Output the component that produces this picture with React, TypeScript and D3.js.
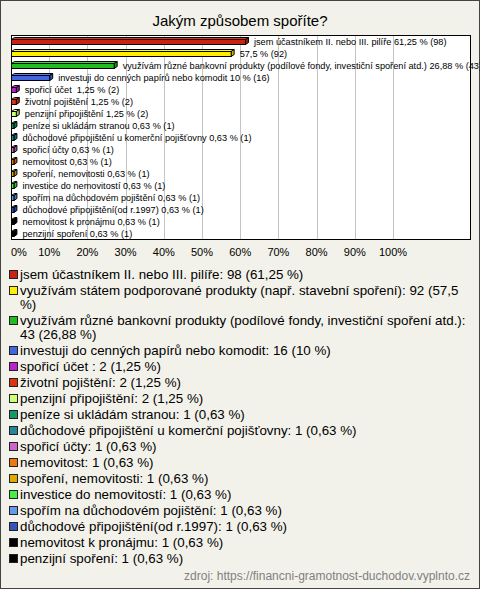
import React from "react";
import * as d3 from "d3";

const title = "Jakým způsobem spoříte?";
const source = "zdroj: https://financni-gramotnost-duchodov.vyplnto.cz";

const categories = [
  "jsem účastníkem II. nebo III. pilíře",
  "využívám státem podporované produkty (např. stavební spoření)",
  "využívám různé bankovní produkty (podílové fondy, investiční spoření atd.)",
  "investuji do cenných papírů nebo komodit",
  "spořicí účet ",
  "životní pojištění",
  "penzijní připojištění",
  "peníze si ukládám stranou",
  "důchodové připojištění u komerční pojišťovny",
  "spořicí účty",
  "nemovitost",
  "spoření, nemovitosti",
  "investice do nemovitostí",
  "spořím na důchodovém pojištění",
  "důchodové připojištění(od r.1997)",
  "nemovitost k pronájmu",
  "penzijní spoření",
];
// names shown next to the bars (the long 2nd one is omitted in the original)
const barNames = [
  "jsem účastníkem II. nebo III. pilíře",
  "",
  "využívám různé bankovní produkty (podílové fondy, investiční spoření atd.)",
  "investuji do cenných papírů nebo komodit",
  "spořicí účet ",
  "životní pojištění",
  "penzijní připojištění",
  "peníze si ukládám stranou",
  "důchodové připojištění u komerční pojišťovny",
  "spořicí účty",
  "nemovitost",
  "spoření, nemovitosti",
  "investice do nemovitostí",
  "spořím na důchodovém pojištění",
  "důchodové připojištění(od r.1997)",
  "nemovitost k pronájmu",
  "penzijní spoření",
];
const counts = [98, 92, 43, 16, 2, 2, 2, 1, 1, 1, 1, 1, 1, 1, 1, 1, 1];
const percents = [61.25, 57.5, 26.88, 10, 1.25, 1.25, 1.25, 0.63, 0.63, 0.63, 0.63, 0.63, 0.63, 0.63, 0.63, 0.63, 0.63];
const colors = [
  "#cc2211", "#ffee00", "#22bb22", "#4466dd", "#bb22cc", "#dd3311", "#ccff77",
  "#119966", "#228899", "#cc66cc", "#ee7711", "#ddaa00", "#44ee44", "#6699ee",
  "#3355bb", "#000000", "#000000",
];
const xTicks = [0, 10, 20, 30, 40, 50, 60, 70, 80, 90, 100];

const W = 480;
const H = 589;
const FONT = "'Liberation Sans', Arial, sans-serif";
const LEGEND_SIZE = 13.35;

const fmt = (v: number) => String(v).replace(".", ",");

let ctx: CanvasRenderingContext2D | null = null;
function measure(t: string, font: string) {
  if (!ctx) ctx = document.createElement("canvas").getContext("2d");
  if (!ctx) return t.length * 7;
  ctx.font = font;
  return ctx.measureText(t).width;
}
function wrap(t: string, maxW: number, font: string) {
  const words = t.split(" ");
  const lines: string[] = [];
  let cur = "";
  for (const w of words) {
    const test = cur === "" ? w : cur + " " + w;
    if (cur !== "" && measure(test, font) > maxW) {
      lines.push(cur);
      cur = w;
    } else cur = test;
  }
  if (cur !== "") lines.push(cur);
  return lines;
}

export default function App() {
  const plot = { left: 11, right: 471, top: 35, bottom: 239 };
  const x = d3.scaleLinear().domain([0, 100]).range([11, 393]);
  const y = d3
    .scaleBand<number>()
    .domain(categories.map((_, i) => i))
    .range([plot.top, plot.bottom]);
  const depth = 3;

  const legendFont = `${LEGEND_SIZE}px ${FONT}`;
  let cy = 274;
  const legendItems = categories.map((c, i) => {
    const txt = `${c}: ${counts[i]} (${fmt(percents[i])} %)`;
    const lines = wrap(txt, 452, legendFont);
    const item = { lines, cy, color: colors[i] };
    cy += lines.length * 14 + 2;
    return item;
  });

  return (
    <svg
      width={W}
      height={H}
      style={{ position: "absolute", left: 0, top: 0 }}
      fontFamily={FONT}
    >
      <rect x={0.5} y={0.5} width={W - 1} height={H - 1} fill="#f3f2ea" stroke="#444" />
      <text x={240} y={26} textAnchor="middle" fontSize={15} fill="#000">
        {title}
      </text>
      <rect
        x={plot.left + 0.5}
        y={plot.top + 0.5}
        width={plot.right - plot.left - 1}
        height={plot.bottom - plot.top}
        fill="#fff"
      />
      {xTicks.slice(1).map((t) => (
        <line
          key={t}
          x1={Math.round(x(t)) + 0.5}
          x2={Math.round(x(t)) + 0.5}
          y1={plot.top}
          y2={plot.bottom}
          stroke="#c4c4c4"
        />
      ))}
      <rect
        x={plot.left + 0.5}
        y={plot.top + 0.5}
        width={plot.right - plot.left - 1}
        height={plot.bottom - plot.top}
        fill="none"
        stroke="#000"
      />
      {categories.map((_, i) => {
        const c = (y(i) as number) + y.bandwidth() / 2 + 0.5;
        const x0 = x(0) + 0.5;
        const x1 = x(percents[i]) + 0.5;
        const top = c - 2;
        const bot = c + 3;
        const col = d3.color(colors[i])!;
        const topCol = colors[i] === "#000000" ? "#555" : col.brighter(0.6).formatHex();
        const sideCol = col.darker(0.7).formatHex();
        return (
          <g key={i}>
            <polygon
              points={`${x0},${top} ${x0 + depth},${top - 2} ${x1 + depth},${top - 2} ${x1},${top}`}
              fill={topCol}
              stroke="#000"
              strokeWidth={1}
            />
            <polygon
              points={`${x1},${top} ${x1 + depth},${top - 2} ${x1 + depth},${bot - 2} ${x1},${bot}`}
              fill={sideCol}
              stroke="#000"
              strokeWidth={1}
            />
            <rect x={x0} y={top} width={x1 - x0} height={bot - top} fill={colors[i]} stroke="#000" />
            <text
              x={x(percents[i]) + 9}
              y={c + 3}
              fontSize={9.2}
              fill="#000"
              style={{ whiteSpace: "pre" }}
            >
              {`${barNames[i] ? barNames[i] + " " : ""}${fmt(percents[i])} % (${counts[i]})`}
            </text>
          </g>
        );
      })}
      {xTicks.map((t, i) => (
        <text
          key={t}
          x={i === 0 ? 11 : x(t)}
          y={256}
          textAnchor={i === 0 ? "start" : "middle"}
          fontSize={11}
          fill="#000"
        >
          {`${t}%`}
        </text>
      ))}
      {legendItems.map((it, i) => (
        <g key={i}>
          <rect x={9.5} y={it.cy - 3.5} width={8} height={8} fill={it.color} stroke="#222" />
          {it.lines.map((l, j) => (
            <text key={j} x={20} y={it.cy + 4.5 + j * 14} fontSize={LEGEND_SIZE} fill="#000">
              {l}
            </text>
          ))}
        </g>
      ))}
      <text x={470} y={580} textAnchor="end" fontSize={12} fill="#808080">
        {source}
      </text>
    </svg>
  );
}
